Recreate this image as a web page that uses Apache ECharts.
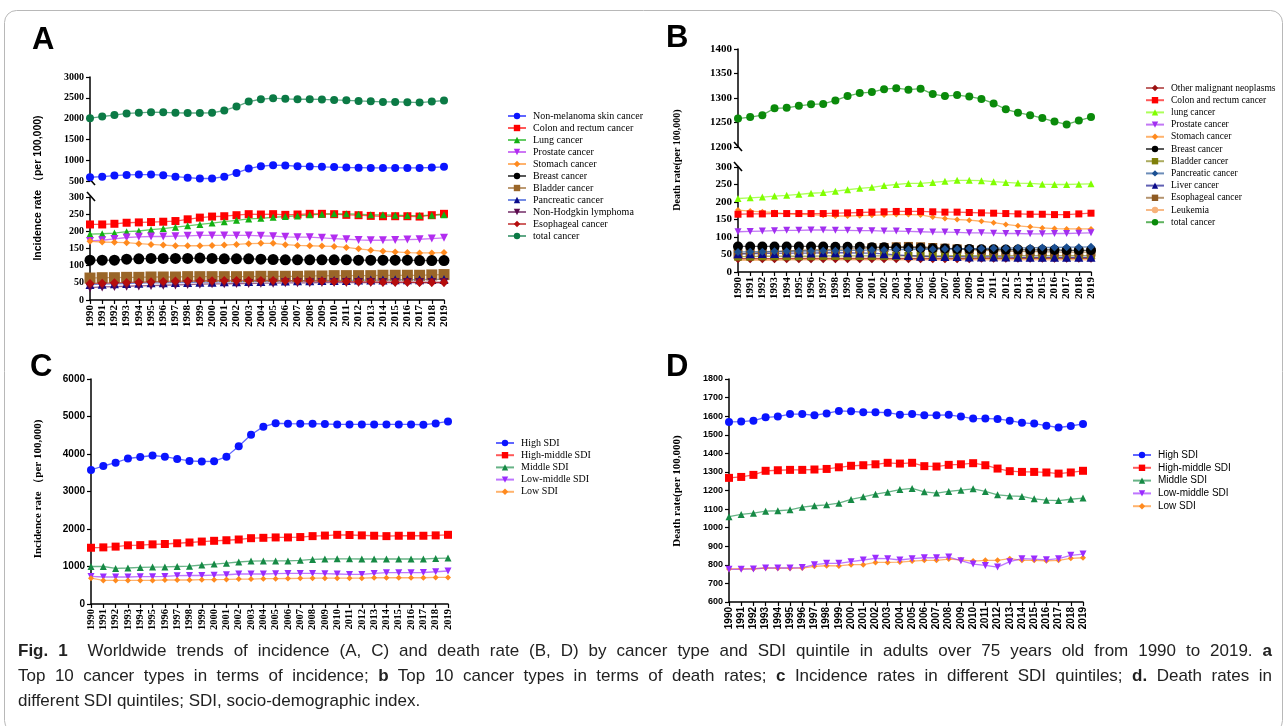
<!DOCTYPE html>
<html><head><meta charset="utf-8">
<script src="https://cdn.jsdelivr.net/npm/echarts@6/dist/echarts.min.js"></script>
<style>
html,body{margin:0;padding:0;background:#fff;}
#wrap{position:relative;width:1287px;height:726px;}
#c{position:absolute;left:0;top:0;width:1287px;height:726px;}
#cap{position:absolute;left:18px;top:638px;width:1254px;font-family:"Liberation Sans",Arial,sans-serif;font-size:17px;line-height:25px;color:#222;}
#cap .j{text-align:justify;text-align-last:justify;white-space:nowrap;}
#cap .j{white-space:normal;}
#cap b{font-weight:bold;}
</style>
</head><body><div id="wrap"><div id="c"></div>
<div id="cap">
<div class="j"><b>Fig. 1</b>&nbsp; Worldwide trends of incidence (A, C) and death rate (B, D) by cancer type and SDI quintile in adults over 75 years old from 1990 to 2019. <b>a</b></div>
<div class="j">Top 10 cancer types in terms of incidence; <b>b</b> Top 10 cancer types in terms of death rates; <b>c</b> Incidence rates in different SDI quintiles; <b>d.</b> Death rates in</div>
<div>different SDI quintiles; SDI, socio-demographic index.</div>
</div></div>
<script>
const years = ['1990','1991','1992','1993','1994','1995','1996','1997','1998','1999','2000','2001','2002','2003','2004','2005','2006','2007','2008','2009','2010','2011','2012','2013','2014','2015','2016','2017','2018','2019'];

// Panel A: incidence by cancer type
const aTotal = [2010,2050,2085,2125,2140,2155,2150,2140,2135,2135,2140,2195,2290,2410,2465,2490,2475,2465,2465,2460,2450,2440,2425,2415,2400,2400,2395,2385,2410,2435];
const aNMSC = [590,605,630,645,655,655,640,605,580,560,560,605,695,800,855,880,875,855,850,840,835,825,820,815,815,815,815,815,825,840];
const aColon = [220,220,222,225,226,227,228,230,235,240,243,244,247,250,249,250,248,249,251,251,250,248,247,245,244,244,244,243,247,251];
const aLung = [192,193,195,199,201,205,208,212,216,220,224,228,232,236,238,241,243,245,248,250,251,251,250,248,248,247,246,246,247,248];
const aProstate = [172,174,178,182,184,185,185,186,187,188,188,188,188,188,187,186,184,183,183,181,179,177,175,174,174,175,176,177,179,181];
const aStomach = [171,169,168,167,164,162,160,158,158,158,159,160,162,164,165,165,161,159,158,157,156,153,149,145,142,140,138,137,137,138];
const aBreast = [116,116,116,119,120,121,121,121,121,122,121,120,120,120,119,118,117,117,117,117,117,117,116,116,116,116,116,115,115,115];
const aBladder = [64,65,65,66,66,67,67,67,68,68,68,68,68,68,69,69,69,69,70,70,71,71,71,71,72,72,72,72,73,74];
const aPancreatic = [45,46,47,48,49,50,50,51,51,52,52,53,53,54,54,55,55,56,56,57,57,57,58,58,58,59,59,59,60,60];
const aNHL = [36,38,39,40,41,42,43,44,45,46,47,47,48,48,49,49,50,50,50,51,51,51,51,51,51,51,51,51,51,51];
const aEsoph = [48,49,50,51,52,53,54,55,55,56,56,57,57,57,57,57,56,56,55,55,54,54,53,53,52,52,52,51,51,51];

// Panel B: death rate by cancer type
const bTotal = [1258,1261,1265,1279,1280,1284,1287,1288,1295,1304,1310,1312,1318,1320,1317,1319,1308,1304,1306,1303,1298,1289,1277,1270,1265,1259,1252,1246,1254,1261];
const bOther = [38,38,38,38,38,38,38,38,38,38,38,38,38,38,38,38,38,38,38,38,39,39,39,39,39,39,39,39,39,39];
const bColon = [165,166,166,167,167,167,167,167,168,169,170,171,172,173,173,173,172,171,171,170,169,168,167,166,165,165,164,164,166,168];
const bLung = [210,212,214,217,219,222,225,227,231,235,239,242,247,250,253,253,256,259,262,262,261,258,256,254,253,251,250,250,251,252];
const bProstate = [115,116,117,118,119,119,120,120,119,119,118,118,117,117,116,115,114,114,113,112,112,111,110,110,109,109,110,110,111,112];
const bStomach = [177,174,172,170,166,165,164,162,160,160,161,162,163,164,164,163,157,153,150,148,145,141,136,132,129,126,124,123,123,123];
const bBreast = [73,73,73,73,73,73,73,73,72,72,72,71,71,70,70,69,68,67,66,66,65,65,64,64,63,63,63,62,62,62];
const bBladder = [44,44,45,45,45,45,45,46,46,46,46,46,46,46,46,46,46,47,47,47,47,47,47,47,47,47,47,47,47,47];
const bPancreatic = [57,58,58,59,59,60,60,61,61,62,62,63,63,64,64,65,65,66,66,67,67,68,68,69,69,70,70,71,71,72];
const bLiver = [52,52,53,53,54,54,54,55,55,55,54,54,52,49,47,45,44,44,44,43,43,43,43,42,42,42,42,42,42,42];
const bEsoph = [52,54,56,58,60,62,63,64,65,66,67,69,70,72,73,72,70,68,66,64,62,61,60,59,58,58,57,57,57,57];
const bLeuk = [36,36,36,36,37,37,37,37,37,37,37,37,37,37,37,37,37,37,37,37,37,37,37,37,37,37,37,37,37,37];

// Panel C: incidence by SDI quintile
const cHigh = [3575,3680,3770,3880,3920,3960,3930,3870,3815,3800,3805,3930,4205,4515,4730,4820,4810,4805,4810,4800,4790,4790,4790,4790,4790,4790,4790,4780,4815,4870];
const cHighMid = [1500,1510,1530,1565,1570,1590,1600,1620,1640,1665,1685,1700,1720,1755,1765,1775,1775,1785,1810,1825,1845,1840,1830,1820,1810,1820,1820,1820,1830,1845];
const cMid = [1000,1000,950,960,975,985,990,1000,1010,1040,1065,1090,1120,1145,1150,1150,1150,1165,1190,1200,1205,1205,1200,1200,1200,1200,1200,1200,1215,1225];
const cLowMid = [735,720,720,720,728,730,735,755,760,760,770,780,800,800,800,810,815,815,815,810,800,790,790,815,835,835,835,840,860,880];
const cLow = [690,630,630,630,630,630,640,640,640,648,650,655,665,665,675,675,680,685,690,690,690,690,690,700,700,700,700,700,710,710];

// Panel D: death rate by SDI quintile
const dHigh = [1569,1571,1576,1594,1598,1611,1611,1605,1615,1628,1626,1621,1621,1619,1608,1611,1605,1605,1607,1598,1587,1587,1585,1576,1564,1560,1549,1539,1547,1558];
const dHighMid = [1268,1273,1284,1306,1309,1311,1311,1313,1316,1325,1333,1336,1341,1349,1345,1349,1331,1329,1338,1341,1347,1336,1318,1304,1300,1300,1297,1291,1297,1306];
const dMid = [1059,1071,1078,1089,1091,1096,1110,1118,1123,1132,1152,1166,1180,1191,1205,1211,1193,1186,1195,1202,1209,1195,1177,1171,1168,1155,1148,1146,1153,1159];
const dLowMid = [776,776,778,783,783,783,785,801,808,808,817,826,835,833,826,833,838,838,842,822,804,797,788,817,833,831,827,833,851,858];
const dLow = [778,779,779,783,782,782,783,792,795,794,801,801,813,813,815,820,824,824,831,827,820,824,824,833,824,824,822,824,835,838];

const aLegend = ['Non-melanoma skin cancer','Colon and rectum cancer','Lung cancer','Prostate cancer','Stomach cancer','Breast cancer','Bladder cancer','Pancreatic cancer','Non-Hodgkin lymphoma','Esophageal cancer','total cancer'];
const ZW = '\u200b';
const bLegend = ['Other malignant neoplasms','Colon and rectum cancer','lung cancer','Prostate cancer','Stomach cancer','Breast cancer','Bladder cancer','Pancreatic cancer','Liver cancer','Esophageal cancer','Leukemia','total cancer'].map(n => n + ZW);
const sdiLegend = ['High SDI','High-middle SDI','Middle SDI','Low-middle SDI','Low SDI'];
const dLegend = sdiLegend.map(n => n + ZW);

const SERIF = '"Liberation Serif","Times New Roman",serif';
const SANS = '"Liberation Sans",Arial,sans-serif';

function S(name, data, color, symbol, size, grid, extra) {
  const o = {
    type: 'line', name, data, xAxisIndex: grid, yAxisIndex: grid,
    symbol, symbolSize: size, showSymbol: symbol !== 'none',
    itemStyle: { color: color, opacity: 1 },
    lineStyle: { color: color, width: 1.3, opacity: 0.65 },
    emphasis: { disabled: true }
  };
  if (symbol === 'down') { o.symbol = 'triangle'; o.symbolRotate = 180; }
  return Object.assign(o, extra || {});
}

const grids = [
  { left: 90, top: 77, width: 354, height: 104 },   // A upper
  { left: 90, top: 197, width: 354, height: 103 },  // A lower
  { left: 738, top: 49, width: 353, height: 98 },   // B upper
  { left: 738, top: 167, width: 353, height: 105 }, // B lower
  { left: 91, top: 379, width: 357, height: 225 },  // C
  { left: 729, top: 379, width: 354, height: 223 }  // D
];

function xA(i, show, font, size) {
  return {
    type: 'category', gridIndex: i, data: years, boundaryGap: false, show: show,
    axisLine: { lineStyle: { color: '#000', width: 1.5 } },
    axisTick: { show: true, length: 4, lineStyle: { color: '#000', width: 1.2 }, interval: 0 },
    axisLabel: { rotate: 90, interval: 0, color: '#000', fontFamily: font, fontWeight: 'bold', fontSize: size, margin: 5 },
    splitLine: { show: false }
  };
}
function yA(i, min, max, interval, font, size) {
  return {
    type: 'value', gridIndex: i, min, max, interval,
    axisLine: { show: true, lineStyle: { color: '#000', width: 1.5 } },
    axisTick: { show: true, length: 4, lineStyle: { color: '#000', width: 1.2 } },
    axisLabel: { color: '#000', fontFamily: font, fontWeight: 'bold', fontSize: size, margin: 6, formatter: v => String(v) },
    splitLine: { show: false }
  };
}

const series = [
  // A
  S(aLegend[0], aNMSC, '#0a14ff', 'circle', 8, 0),
  S(aLegend[10], aTotal, '#0b7a45', 'circle', 8, 0),
  S(aLegend[1], aColon, '#ff0000', 'rect', 8, 1),
  S(aLegend[2], aLung, '#12b012', 'triangle', 7, 1),
  S(aLegend[3], aProstate, '#b22cf0', 'down', 8, 1),
  S(aLegend[4], aStomach, '#ff8a1e', 'diamond', 7, 1),
  S(aLegend[5], aBreast, '#000000', 'circle', 11, 1),
  S(aLegend[6], aBladder, '#9a6628', 'rect', 11, 1),
  S(aLegend[7], aPancreatic, '#0a0a8a', 'triangle', 9, 1, { lineStyle: { color: '#3b5bd9', width: 1.3, opacity: 0.7 } }),
  S(aLegend[8], aNHL, '#5c0b4f', 'down', 9, 1),
  S(aLegend[9], aEsoph, '#b50d0d', 'diamond', 9, 1),
  // B
  S(bLegend[11], bTotal, '#0a8a0a', 'circle', 8, 2),
  S(bLegend[2], bLung, '#80ff00', 'triangle', 7, 3),
  S(bLegend[4], bStomach, '#ff8a1e', 'diamond', 6, 3),
  S(bLegend[1], bColon, '#ff0000', 'rect', 7, 3),
  S(bLegend[3], bProstate, '#a22ef0', 'down', 7, 3),
  S(bLegend[10], bLeuk, '#f7b27a', 'none', 0, 3, { lineStyle: { color: '#f7b27a', width: 3, opacity: 0.9 } }),
  S(bLegend[0], bOther, '#9c1212', 'diamond', 9, 3),
  S(bLegend[6], bBladder, '#7f7f0a', 'rect', 8, 3),
  S(bLegend[9], bEsoph, '#8e5a22', 'rect', 9, 3),
  S(bLegend[8], bLiver, '#0a0a8a', 'triangle', 9, 3),
  S(bLegend[5], bBreast, '#000000', 'circle', 10, 3),
  S(bLegend[7], bPancreatic, '#1b4f92', 'diamond', 8, 3),
  // C
  S(sdiLegend[0], cHigh, '#0a14ff', 'circle', 8, 4),
  S(sdiLegend[1], cHighMid, '#ff0000', 'rect', 8, 4),
  S(sdiLegend[2], cMid, '#168a45', 'triangle', 7, 4),
  S(sdiLegend[3], cLowMid, '#9b2cff', 'down', 7, 4),
  S(sdiLegend[4], cLow, '#ff8a1e', 'diamond', 6, 4),
  // D
  S(dLegend[0], dHigh, '#0a14ff', 'circle', 8, 5),
  S(dLegend[1], dHighMid, '#ff0000', 'rect', 8, 5),
  S(dLegend[2], dMid, '#168a45', 'triangle', 7, 5),
  S(dLegend[4], dLow, '#ff8a1e', 'diamond', 6, 5),
  S(dLegend[3], dLowMid, '#9b2cff', 'down', 7, 5)
];

function leg(data, left, top, font, fs, gap) {
  return {
    data, left, top, orient: 'vertical', itemWidth: 18, itemHeight: 8, itemGap: gap, padding: 0,
    selectedMode: false,
    textStyle: { color: '#000', fontFamily: font, fontSize: fs, lineHeight: 12, padding: [0, 0, 0, 2] }
  };
}

function vtext(x, y, text, font, size) {
  return { type: 'text', x, y, rotation: Math.PI / 2,
    style: { text, fill: '#000', font: 'bold ' + size + 'px ' + font, align: 'center', verticalAlign: 'middle' } };
}
function slash(x, y) {
  return { type: 'line', shape: { x1: x - 4, y1: y - 5, x2: x + 4, y2: y + 4 }, style: { stroke: '#000', lineWidth: 1.6 } };
}
function letter(x, y, t) {
  return { type: 'text', x, y, style: { text: t, fill: '#000', font: 'bold 31px ' + SANS } };
}

const option = {
  animation: false,
  backgroundColor: 'transparent',
  grid: grids,
  xAxis: [xA(0, false, SERIF, 11), xA(1, true, SERIF, 11), xA(2, false, SERIF, 11), xA(3, true, SERIF, 11), xA(4, true, SERIF, 10.5), xA(5, true, SANS, 10)],
  yAxis: [
    yA(0, 500, 3000, 500, SERIF, 10), yA(1, 0, 300, 50, SERIF, 10),
    yA(2, 1200, 1400, 50, SERIF, 11), yA(3, 0, 300, 50, SERIF, 11),
    yA(4, 0, 6000, 1000, SANS, 10), yA(5, 600, 1800, 100, SANS, 9)
  ],
  legend: [
    leg(aLegend, 507, 110, SERIF, 10, 0),
    leg(bLegend, 1145, 82, SERIF, 9.5, 0.2),
    leg(sdiLegend, 495, 437, SERIF, 10, 0.2),
    leg(dLegend, 1132, 449, SANS, 10, 0.8)
  ],
  series,
  graphic: [
    { type: 'rect', shape: { x: 4.5, y: 10.5, width: 1278, height: 722, r: 12 }, style: { fill: 'none', stroke: '#b8b8b8', lineWidth: 1 } },
    letter(32, 25, 'A'), letter(666, 23, 'B'), letter(30, 352, 'C'), letter(666, 352, 'D'),
    vtext(38, 188, 'Incidence rate （per 100,000)', SANS, 10.5),
    vtext(677, 160, 'Death rate(per 100,000)', SERIF, 10),
    vtext(38, 489, 'Incidence rate （per 100,000)', SERIF, 11),
    vtext(677, 491, 'Death rate(per 100,000)', SERIF, 11),
    slash(91, 181), slash(91, 197), slash(738, 147), slash(738, 167)
  ]
};

const chart = echarts.init(document.getElementById('c'), null, { renderer: 'canvas' });
chart.setOption(option);
</script>
</body></html>
